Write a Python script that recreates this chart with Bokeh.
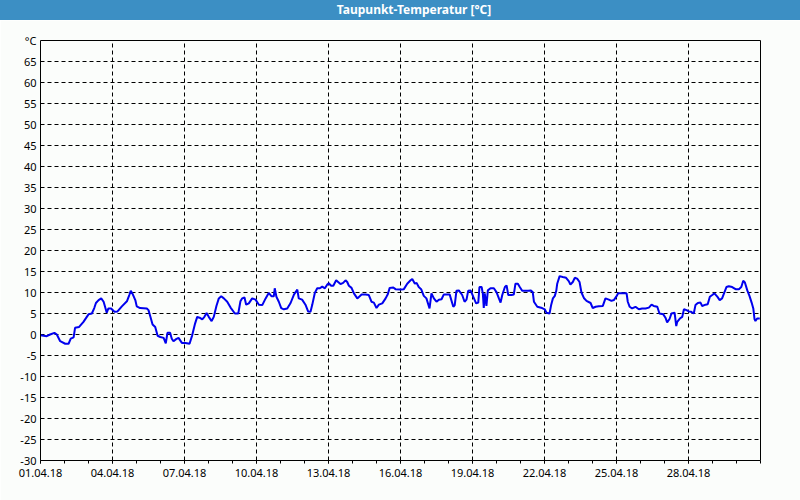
from bokeh.plotting import figure
from bokeh.layouts import column
from bokeh.models import FixedTicker, LinearAxis, Div
from bokeh.embed import file_html
from bokeh.resources import INLINE

title_text = "Taupunkt-Temperatur [°C]"

# time in days since 01.04.18 00:00
days = [0.0, 0.26, 0.40, 0.58, 0.68, 0.82, 1.03, 1.17, 1.26, 1.38, 1.44, 1.61, 1.79, 2.0, 2.14, 2.24, 2.31, 2.42,
        2.53, 2.63, 2.69, 2.76, 2.83, 2.94, 3.08, 3.21, 3.39, 3.6, 3.7, 3.76, 3.85, 3.95, 4.01, 4.15, 4.43, 4.5,
        4.57, 4.67, 4.78, 4.88, 4.99, 5.13, 5.22, 5.29, 5.4, 5.47, 5.54, 5.65, 5.75, 5.89, 6.04, 6.21, 6.32, 6.43,
        6.53, 6.63, 6.74, 6.83, 6.92, 7.01, 7.13, 7.22, 7.33, 7.43, 7.53, 7.64, 7.78, 7.92, 8.1, 8.24, 8.33, 8.4,
        8.5, 8.57, 8.68, 8.82, 8.96, 9.1, 9.24, 9.38, 9.51, 9.63, 9.72, 9.76, 9.83, 9.93, 10.03, 10.14, 10.28,
        10.42, 10.56, 10.7, 10.76, 10.9, 11.04, 11.15, 11.25, 11.32, 11.43, 11.53, 11.64, 11.74, 11.85, 11.95,
        12.01, 12.11, 12.2, 12.32, 12.4, 12.5, 12.61, 12.71, 12.78, 12.85, 12.96, 13.06, 13.2, 13.38, 13.54,
        13.68, 13.79, 13.89, 14.0, 14.1, 14.24, 14.38, 14.47, 14.55, 14.7, 14.79, 15.0, 15.14, 15.28, 15.42,
        15.49, 15.6, 15.67, 15.76, 15.86, 15.97, 16.08, 16.21, 16.29, 16.39, 16.5, 16.6, 16.71, 16.8, 16.95,
        17.05, 17.2, 17.26, 17.33, 17.43, 17.57, 17.67, 17.75, 17.82, 17.92, 18.03, 18.15, 18.24, 18.29, 18.38,
        18.43, 18.47, 18.51, 18.58, 18.64, 18.75, 18.89, 19.0, 19.1, 19.17, 19.24, 19.35, 19.42, 19.49, 19.63,
        19.72, 19.79, 19.89, 19.97, 20.07, 20.21, 20.32, 20.42, 20.51, 20.56, 20.7, 20.9, 21.01, 21.08, 21.21,
        21.28, 21.35, 21.43, 21.49, 21.53, 21.63, 21.76, 21.9, 22.01, 22.08, 22.18, 22.26, 22.36, 22.46, 22.54,
        22.64, 22.75, 22.92, 23.01, 23.13, 23.26, 23.43, 23.54, 23.68, 23.79, 23.89, 23.99, 24.07, 24.24, 24.42,
        24.47, 24.55, 24.65, 24.79, 24.93, 25.07, 25.21, 25.35, 25.46, 25.55, 25.7, 25.79, 25.95, 26.04, 26.11,
        26.21, 26.29, 26.42, 26.49, 26.53, 26.64, 26.74, 26.81, 26.92, 27.01, 27.11, 27.22, 27.29, 27.39, 27.5,
        27.57, 27.71, 27.8, 27.89, 27.99, 28.08, 28.2, 28.3, 28.4, 28.5, 28.58, 28.68, 28.82, 28.96, 29.1, 29.2,
        29.28, 29.35, 29.45, 29.54, 29.63, 29.7, 29.75, 29.79, 29.86, 29.97]

dewpoint = [-0.2, -0.4, 0.0, 0.4, 0.0, -1.6, -2.2, -2.2, -1.0, -0.7, 1.6, 1.8, 3.0, 4.8, 5.0, 6.3, 7.5, 8.2,
            8.6, 7.8, 6.6, 5.2, 6.2, 6.2, 5.4, 5.5, 6.7, 7.9, 9.4, 10.4, 9.5, 8.2, 6.7, 6.3, 6.2, 5.8,
            4.4, 2.4, 1.8, -0.3, -0.6, -0.8, -2.1, 0.4, 0.4, -1.0, -1.6, -1.1, -0.8, -2.0, -2.0, -2.2, -0.2, 2.4,
            4.2, 4.0, 3.6, 4.2, 5.1, 4.2, 3.2, 4.2, 6.8, 8.6, 9.1, 8.6, 7.8, 6.4, 5.0, 5.0, 7.9, 8.6,
            8.8, 7.1, 7.4, 8.6, 8.3, 7.1, 7.0, 8.6, 9.9, 9.1, 9.1, 11.0, 9.0, 7.8, 6.3, 6.0, 6.2,
            7.5, 9.5, 10.7, 8.6, 8.3, 7.1, 5.5, 5.4, 7.0, 9.9, 11.0, 11.0, 11.4, 11.0, 11.9,
            12.2, 11.6, 11.6, 12.9, 12.5, 12.0, 12.3, 12.9, 12.5, 11.6, 11.1, 9.8, 8.6, 9.5, 9.5,
            9.4, 7.8, 7.6, 6.3, 7.1, 7.4, 8.6, 9.6, 11.1, 11.2, 10.8, 10.7, 10.8, 12.1, 12.9,
            13.2, 12.1, 12.3, 11.3, 10.8, 9.2, 8.6, 6.2, 9.8, 8.6, 7.8, 8.3, 8.4, 9.5, 9.5,
            9.5, 6.6, 7.0, 10.4, 10.5, 9.4, 7.8, 8.3, 10.4, 10.5, 9.0, 7.4, 7.6, 11.3, 11.3,
            9.8, 6.3, 9.8, 6.8, 10.5, 11.0, 11.0, 10.1, 8.6, 7.6, 9.4, 11.3, 11.7, 9.4, 9.4,
            9.5, 12.1, 12.1, 11.3, 10.4, 10.4, 10.4, 10.5, 10.1, 7.8, 6.6, 6.3, 6.0, 5.2, 5.0,
            7.1, 8.6, 9.2, 10.4, 12.1, 13.9, 13.7, 13.5, 12.7, 11.9, 12.5, 13.5, 13.3, 12.5, 10.0,
            8.7, 8.0, 7.5, 6.3, 6.6, 6.7, 6.8, 8.6, 8.3, 8.0, 8.2, 9.0, 9.8, 9.8, 9.8,
            7.8, 6.6, 6.2, 6.6, 6.0, 6.2, 6.2, 6.4, 7.1, 6.8, 6.6, 5.0, 4.8, 4.0, 2.9,
            3.7, 5.0, 5.2, 2.0, 3.0, 3.8, 4.2, 6.0, 5.8, 5.5, 5.4, 5.0, 7.0, 7.5, 7.6,
            6.8, 7.1, 7.2, 9.0, 9.4, 9.8, 9.0, 8.2, 8.6, 10.1, 11.3, 11.5, 11.3, 10.8, 10.8, 11.3,
            12.8, 12.4, 10.5, 9.2, 7.6, 6.2, 3.7, 3.2, 3.8, 3.8]

x_tick_days = [0, 3, 6, 9, 12, 15, 18, 21, 24, 27]
x_tick_labels = ["01.04.18", "04.04.18", "07.04.18", "10.04.18", "13.04.18",
                 "16.04.18", "19.04.18", "22.04.18", "25.04.18", "28.04.18"]
x_minor_days = list(range(0, 31))
y_ticks = list(range(-30, 71, 5))
y_tick_labels = [str(v) for v in range(-30, 70, 5)] + ["°C"]

BLUE = "#3c8fc4"
BG = "#fbfdfb"
FONT = "Noto Sans"

# title bar (HTML, full window width)
bar = Div(text=title_text, width=800, height=20, margin=0,
          styles={"background-color": BLUE, "color": "white", "font-family": FONT,
                  "font-weight": "bold", "font-size": "12px", "line-height": "20px",
                  "text-align": "center", "padding-left": "28px", "box-sizing": "border-box"})

p = figure(frame_width=720, frame_height=420, output_backend="svg", toolbar_location=None,
           x_range=(0, 30), y_range=(-30, 70),
           min_border_left=40, min_border_right=40, min_border_top=20, min_border_bottom=40)
p.background_fill_color = BG
p.border_fill_color = BG
p.outline_line_color = None

p.line(days, dewpoint, line_color="#0000ee", line_width=2)

xaxis = p.below[0]
yaxis = p.left[0]

# plain frame lines on top and right (no ticks, no labels)
for side in ("right", "above"):
    ax = LinearAxis(ticker=FixedTicker(ticks=[], minor_ticks=[]),
                    major_tick_line_color=None, minor_tick_line_color=None,
                    axis_line_color="black", major_label_standoff=0)
    p.add_layout(ax, side)

xaxis.ticker = FixedTicker(ticks=x_tick_days, minor_ticks=x_minor_days)
xaxis.major_label_overrides = {d: l for d, l in zip(x_tick_days, x_tick_labels)}
yaxis.ticker = FixedTicker(ticks=y_ticks, minor_ticks=[])
yaxis.major_label_overrides = {v: l for v, l in zip(y_ticks, y_tick_labels)}

for ax in (xaxis, yaxis):
    ax.axis_line_color = "black"
    ax.major_label_text_font = FONT
    ax.major_label_text_font_size = "11px"
    ax.major_label_text_color = "black"
    ax.major_tick_in = 0
    ax.minor_tick_in = 0

xaxis.major_tick_out = 3
xaxis.minor_tick_out = 3
xaxis.major_tick_line_color = "black"
xaxis.minor_tick_line_color = "black"
xaxis.major_label_standoff = 5
yaxis.major_tick_out = 0
yaxis.major_tick_line_color = None
yaxis.minor_tick_line_color = None
yaxis.major_label_standoff = 4

p.xgrid.ticker = FixedTicker(ticks=x_tick_days)
p.ygrid.ticker = FixedTicker(ticks=y_ticks)
for g in (p.xgrid[0], p.ygrid[0]):
    g.grid_line_color = "black"
    g.grid_line_dash = "4 3"
    g.grid_line_width = 1

layout = column(bar, p, spacing=0)

with open("out.html", "w") as f:
    f.write(file_html(layout, INLINE))
